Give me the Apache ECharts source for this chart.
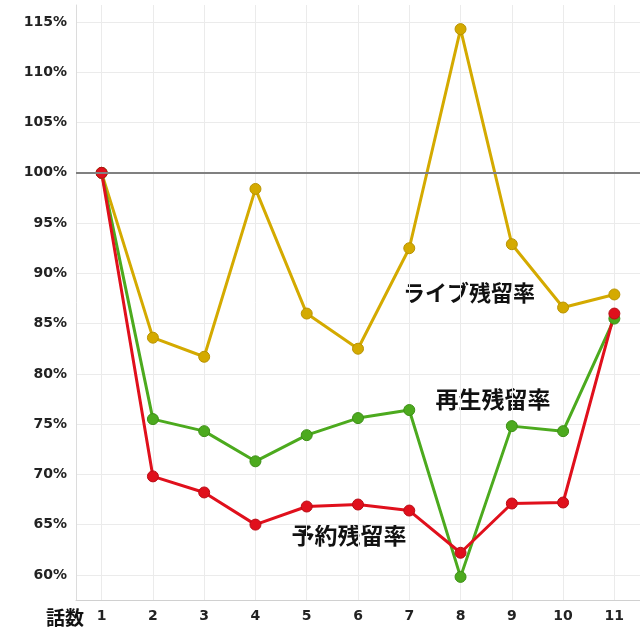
<!DOCTYPE html>
<html>
<head>
<meta charset="utf-8">
<script src="https://cdn.jsdelivr.net/npm/echarts@6/dist/echarts.min.js"></script>
<style>html,body{margin:0;padding:0;background:#fff}#c{width:640px;height:640px}</style>
</head>
<body>
<div id="c"></div>
<script>
const categories = ['1','2','3','4','5','6','7','8','9','10','11'];
const liveRate = [100, 83.6, 81.7, 98.4, 86.0, 82.5, 92.5, 114.3, 92.9, 86.6, 87.9];
const playRate = [100, 75.5, 74.3, 71.3, 73.9, 75.6, 76.4, 59.8, 74.8, 74.3, 85.5];
const reserveRate = [100, 69.8, 68.2, 65.0, 66.8, 67.0, 66.4, 62.2, 67.1, 67.2, 86.0];
const seriesNames = ['ライブ残留率', '再生残留率', '予約残留率'];
const xAxisName = '話数';
const baseline = 100;

const chart = echarts.init(document.getElementById('c'));
const latin = 'DejaVu Sans';
const cjk = '"Noto Sans CJK JP", sans-serif';
function mkSeries(name, data, color, border, extra) {
  return Object.assign({
    name: name, type: 'line', data: data,
    symbol: 'circle', symbolSize: 11,
    lineStyle: { color: color, width: 3 },
    itemStyle: { color: color, borderColor: border, borderWidth: 1 },
    animation: false
  }, extra || {});
}
chart.setOption({
  animation: false,
  grid: { left: 76, right: 0, top: 5, bottom: 40 },
  xAxis: {
    type: 'category', data: categories, boundaryGap: true,
    axisLine: { show: true, lineStyle: { color: '#d0d0d0', width: 1 } },
    axisTick: { show: false },
    axisLabel: { color: '#222', fontFamily: latin, fontWeight: 'bold', fontSize: 14, margin: 9 },
    splitLine: { show: true, alignWithLabel: true, lineStyle: { color: '#ebebeb', width: 1 } }
  },
  yAxis: {
    type: 'value', min: 57.5, max: 116.7, interval: 2.5,
    axisLine: { show: true, lineStyle: { color: '#dcdcdc', width: 1 } },
    axisTick: { show: false },
    axisLabel: {
      color: '#222', fontFamily: latin, fontWeight: 'bold', fontSize: 14, margin: 9,
      formatter: function (v) { return (Math.abs(v % 5) < 1e-6) ? v + '%' : ''; }
    },
    splitLine: { show: true, lineStyle: { color: ['rgba(0,0,0,0)', '#ebebeb'], width: 1 } }
  },
  graphic: [
    { type: 'text', left: 46, top: 608, style: { text: xAxisName, fill: '#111', font: 'bold 19px ' + cjk } },
    { type: 'text', x: 469, y: 293, style: { text: seriesNames[0], fill: '#111', font: 'bold 22px ' + cjk, textAlign: 'center', textVerticalAlign: 'middle' } },
    { type: 'text', x: 493, y: 399, style: { text: seriesNames[1], fill: '#111', font: 'bold 23px ' + cjk, textAlign: 'center', textVerticalAlign: 'middle' } },
    { type: 'text', x: 349, y: 535, style: { text: seriesNames[2], fill: '#111', font: 'bold 23px ' + cjk, textAlign: 'center', textVerticalAlign: 'middle' } }
  ],
  series: [
    mkSeries(seriesNames[0], liveRate, '#d4aa00', '#b89300', {
      markLine: {
        silent: true, symbol: 'none', label: { show: false },
        lineStyle: { color: '#808080', width: 2, type: 'solid' },
        data: [{ yAxis: baseline }]
      }
    }),
    mkSeries(seriesNames[1], playRate, '#4caa1e', '#3d8f16'),
    mkSeries(seriesNames[2], reserveRate, '#e0101c', '#b80c16')
  ]
});
</script>
</body>
</html>
